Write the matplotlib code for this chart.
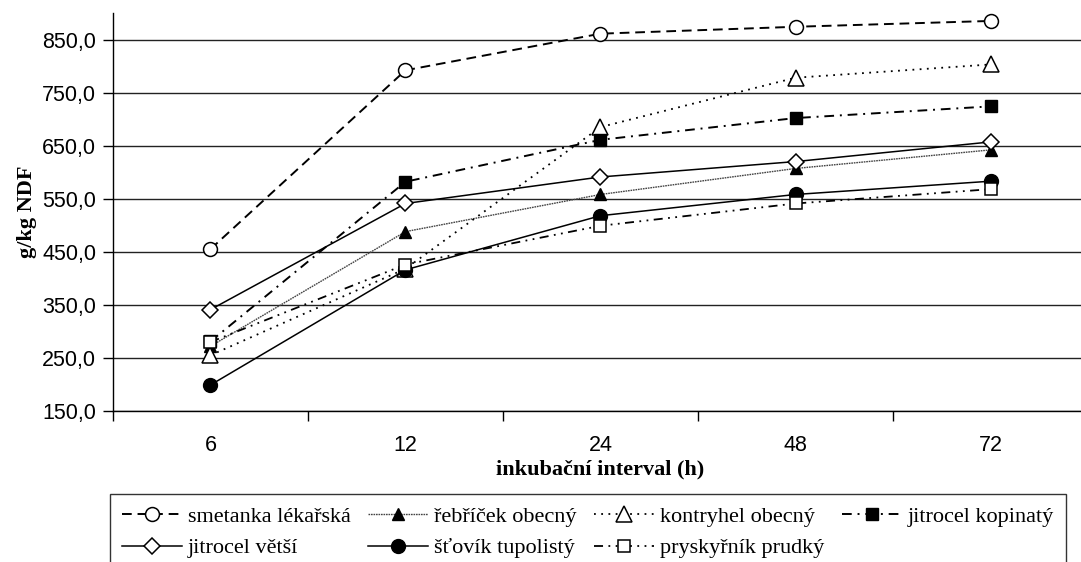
import matplotlib
matplotlib.use("Agg")
from matplotlib import pyplot
from matplotlib.ticker import FixedLocator, FuncFormatter

# data
intervals = ["6", "12", "24", "48", "72"]

smetanka = [455, 792, 861, 874, 885]
rebricek = [272, 488, 558, 607, 642]
kontryhel = [255, 418, 685, 778, 803]
jitrocel_kopinaty = [281, 582, 661, 702, 724]
jitrocel_vetsi = [341, 541, 591, 620, 657]
stovik = [199, 416, 518, 558, 583]
pryskyrnik = [280, 426, 499, 541, 568]

labels = [
    "smetanka lékařská",
    "řebříček obecný",
    "kontryhel obecný",
    "jitrocel kopinatý",
    "jitrocel větší",
    "šťovík tupolistý",
    "pryskyřník prudký",
]

SANS = "Liberation Sans"
SERIF = "Liberation Serif"

fig = pyplot.figure(figsize=(10.81, 5.62), dpi=100)
ax = fig.add_axes([0.1045, 0.2687, 0.902, 0.7082])

x = list(range(len(intervals)))

ax.plot(x, smetanka, color="black", lw=1.4, linestyle=(0, (5, 3)),
        marker="o", markersize=10, markerfacecolor="white", markeredgewidth=1.1,
        label=labels[0], zorder=5)
ax.plot(x, rebricek, color="#444444", lw=1.0, linestyle=(0, (1.2, 0.6)),
        marker="^", markersize=9, markerfacecolor="black", markeredgecolor="black",
        label=labels[1], zorder=5)
ax.plot(x, kontryhel, color="black", lw=1.3, linestyle=(0, (1, 3)),
        marker="^", markersize=11, markerfacecolor="white", markeredgewidth=1.1,
        label=labels[2], zorder=5)
ax.plot(x, jitrocel_kopinaty, color="black", lw=1.4, linestyle=(0, (5, 3, 1, 3)),
        marker="s", markersize=8, markerfacecolor="black",
        label=labels[3], zorder=5)
ax.plot(x, jitrocel_vetsi, color="black", lw=1.1, linestyle="-",
        marker="D", markersize=8, markerfacecolor="white", markeredgewidth=1.1,
        label=labels[4], zorder=5)
ax.plot(x, stovik, color="black", lw=1.1, linestyle="-",
        marker="o", markersize=10, markerfacecolor="black",
        label=labels[5], zorder=5)
ax.plot(x, pryskyrnik, color="black", lw=1.3, linestyle=(0, (5, 3, 1, 3, 1, 3)),
        marker="s", markersize=8, markerfacecolor="white", markeredgewidth=1.1,
        label=labels[6], zorder=5)

ax.set_xlim(-0.5, len(intervals) - 0.5)
ax.set_ylim(150, 900)

yticks = [150, 250, 350, 450, 550, 650, 750, 850]
ax.set_yticks(yticks)
ax.yaxis.set_major_formatter(FuncFormatter(lambda v, p: f"{v:.1f}".replace(".", ",")))
ax.grid(axis="y", color="#222222", lw=1.0)
ax.set_axisbelow(True)

ax.set_xticks(x)
ax.set_xticklabels(intervals)
ax.xaxis.set_minor_locator(FixedLocator([i - 0.5 for i in range(len(intervals) + 1)]))
ax.tick_params(axis="x", which="major", length=0, pad=17)
ax.tick_params(axis="x", which="minor", length=7, width=1, direction="out")
ax.tick_params(axis="y", length=7, width=1, direction="out", pad=5)

for lbl in ax.get_xticklabels() + ax.get_yticklabels():
    lbl.set_fontfamily(SANS)
    lbl.set_fontsize(15.5)

ax.spines["top"].set_visible(False)
ax.spines["right"].set_visible(False)
ax.spines["left"].set_linewidth(1.0)
ax.spines["bottom"].set_linewidth(1.0)

ax.set_ylabel("g/kg NDF", fontfamily=SERIF, fontweight="bold", fontsize=16, labelpad=4)
ax.set_xlabel("inkubační interval (h)", fontfamily=SERIF, fontweight="bold",
              fontsize=16, labelpad=3)

# legend fills row by row in the reference, matplotlib fills by column
handles, labs = ax.get_legend_handles_labels()
order = [0, 4, 1, 5, 2, 6, 3]
legend = fig.legend(
    [handles[i] for i in order],
    [labs[i] for i in order],
    loc="upper left",
    bbox_to_anchor=(110 / 1081, 1 - 494 / 562),
    borderaxespad=0,
    ncol=4,
    prop={"family": SERIF, "size": 16},
    handlelength=2.7,
    handletextpad=0.25,
    columnspacing=0.8,
    borderpad=0.55,
    labelspacing=0.5,
    fancybox=False,
    frameon=True,
    edgecolor="black",
)
legend.get_frame().set_linewidth(1.0)

fig.savefig("out.png", dpi=100)
